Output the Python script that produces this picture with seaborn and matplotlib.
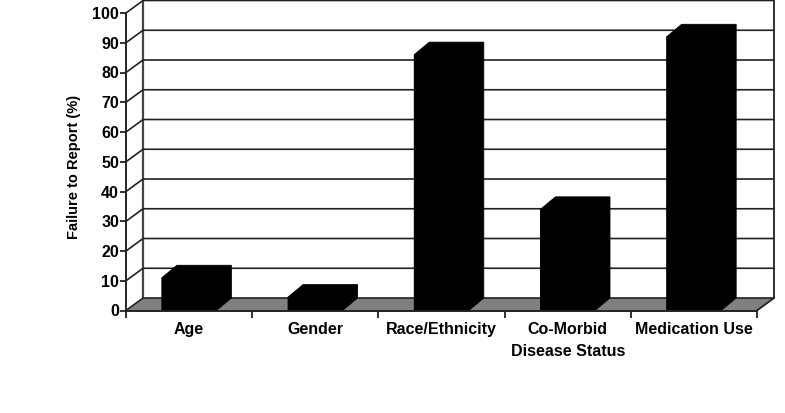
import matplotlib
matplotlib.use("Agg")
import matplotlib.pyplot as plt
import seaborn as sns

categories = ["Age", "Gender", "Race/Ethnicity", "Co-Morbid\nDisease Status", "Medication Use"]
failure_pct = [11, 4.5, 86, 34, 92]
y_ticks = [0, 10, 20, 30, 40, 50, 60, 70, 80, 90, 100]

# 3D look: offsets of the back wall, in axis units
depth_x = 0.135
depth_y = 4.2
bar_depth_x = 0.119
bar_width = 0.432
line_col = "#222222"

sns.set_style("white")
plt.rcParams["font.family"] = ["Liberation Sans", "DejaVu Sans"]
plt.rcParams["font.weight"] = "bold"

W, H = 785, 413
fig = plt.figure(figsize=(W / 100, H / 100), dpi=100)
ax = fig.add_axes([126 / W, 1 - 310.5 / H, 631 / W, 297.5 / H])

sns.barplot(x=categories, y=failure_pct, color="black", saturation=1,
            width=bar_width, ax=ax, zorder=4, edgecolor="black", linewidth=0.6)

ax.set_xlim(-0.5, 4.5)
ax.set_ylim(0, 100)

# floor
ax.fill([-0.5, 4.5, 4.5 + depth_x, -0.5 + depth_x], [0, 0, depth_y, depth_y],
        color="#808080", lw=0, zorder=1, clip_on=False)
ax.plot([4.5, 4.5 + depth_x], [0, depth_y], color=line_col, lw=1.3, zorder=2, clip_on=False)

# walls and gridlines
ax.plot([-0.5 + depth_x] * 2, [depth_y, 100 + depth_y], color="#444444", lw=1.6, zorder=2, clip_on=False)
ax.plot([4.5 + depth_x] * 2, [depth_y, 100 + depth_y], color=line_col, lw=1.3, zorder=2, clip_on=False)
for t in y_ticks:
    ax.plot([-0.5, -0.5 + depth_x, 4.5 + depth_x], [t, t + depth_y, t + depth_y],
            color=line_col, lw=1.2, zorder=2, clip_on=False)

# depth of the bars, whole silhouette so no seam shows on the front face
for i, v in enumerate(failure_pct):
    left = i - bar_width / 2
    right = i + bar_width / 2
    ax.fill([left, left + bar_depth_x, right + bar_depth_x, right + bar_depth_x, right, left],
            [v, v + depth_y, v + depth_y, depth_y, 0, 0],
            facecolor="black", edgecolor="black", lw=0.6, zorder=4, clip_on=False)

sns.despine(ax=ax, top=True, right=True)
for side in ["left", "bottom"]:
    ax.spines[side].set_color(line_col)
    ax.spines[side].set_linewidth(1.4)
    ax.spines[side].set_zorder(5)

ax.set_yticks(y_ticks)
ax.set_xticks([i - 0.5 for i in range(6)], minor=True)
ax.tick_params(axis="x", which="major", length=0, pad=8, labelsize=11.5, labelcolor="black")
ax.tick_params(axis="x", which="minor", bottom=True, length=5, width=1.3, color=line_col)
ax.tick_params(axis="y", left=True, length=4, width=1.3, color=line_col, pad=1, labelsize=11.5, labelcolor="black")
for lab in ax.get_xticklabels():
    lab.set_linespacing(1.6)
ax.set_xlabel("")
ax.set_ylabel("Failure to Report (%)", fontsize=10.5, fontweight="bold", color="black")
ax.yaxis.set_label_coords(-0.071, 0.482)

fig.savefig("out.png", dpi=100)
